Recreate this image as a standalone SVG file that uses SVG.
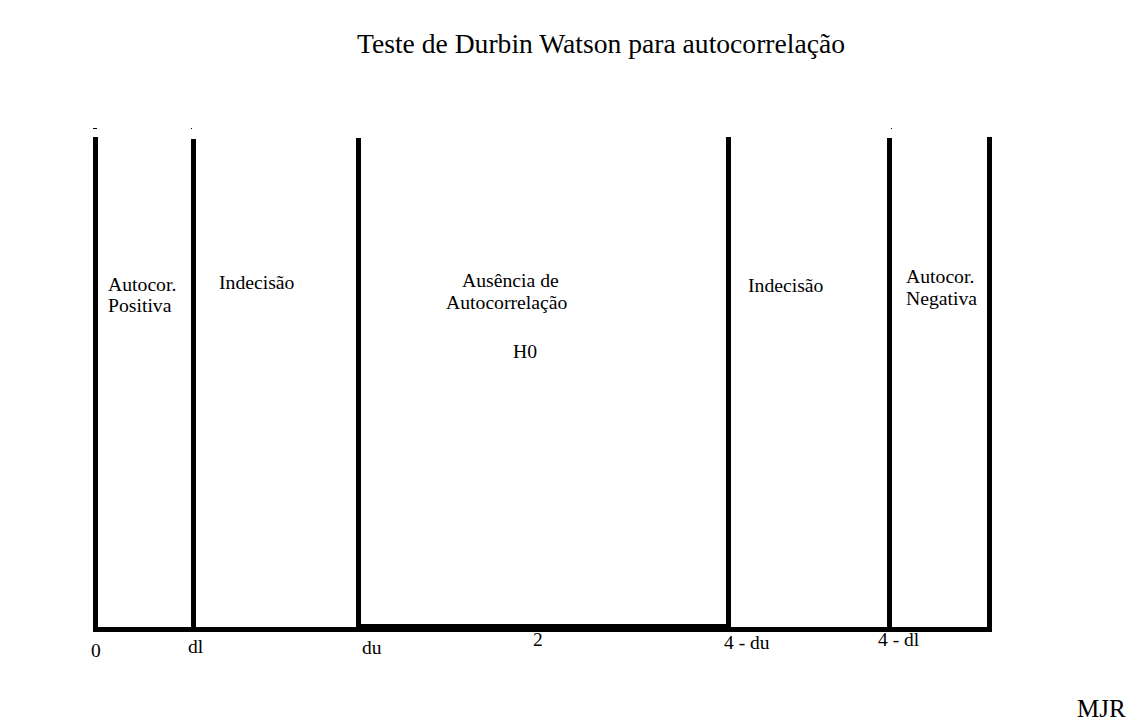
<svg xmlns="http://www.w3.org/2000/svg" width="1139" height="726" viewBox="0 0 1139 726">
<style>
text{font-family:"Liberation Serif","Times New Roman",serif;fill:#000}
.lbl{font-size:19.7px}
.ax{font-size:19.5px}
.bar{fill:#000}
</style>
<rect width="1139" height="726" fill="#fff"/>
<text id="title" x="357" y="53" style="font-size:27.6px">Teste de Durbin Watson para autocorrelação</text>
<g id="frame">
<rect class="bar" x="93" y="128" width="4" height="1"/>
<rect class="bar" x="191" y="128" width="1" height="1"/>
<rect class="bar" x="891" y="128" width="1" height="1"/>
<rect class="bar" x="93" y="137" width="5" height="495"/>
<rect class="bar" x="191" y="139" width="5" height="493"/>
<rect class="bar" x="356" y="138" width="5" height="494"/>
<rect class="bar" x="726" y="137" width="5" height="495"/>
<rect class="bar" x="887" y="138" width="5" height="494"/>
<rect class="bar" x="987" y="137" width="5" height="495"/>
<rect class="bar" x="93" y="627" width="899" height="5"/>
<rect class="bar" x="361" y="624" width="366" height="8"/>
</g>
<g id="region-pos">
<text class="lbl" x="108" y="291">Autocor.</text>
<text class="lbl" x="108" y="312">Positiva</text>
</g>
<g id="region-ind1"><text class="lbl" x="219" y="289">Indecisão</text></g>
<g id="region-h0">
<text class="lbl" x="462" y="287">Ausência de</text>
<text class="lbl" x="446" y="309">Autocorrelação</text>
<text class="lbl" x="513" y="358">H0</text>
</g>
<g id="region-ind2"><text class="lbl" x="748" y="292">Indecisão</text></g>
<g id="region-neg">
<text class="lbl" x="906" y="283">Autocor.</text>
<text class="lbl" x="906" y="305">Negativa</text>
</g>
<g id="axis-labels">
<text class="ax" x="91" y="657">0</text>
<text class="ax" x="188" y="653">dl</text>
<text class="ax" x="362" y="654">du</text>
<text class="ax" x="533" y="646">2</text>
<text class="ax" x="724" y="649">4 - du</text>
<text class="ax" x="878" y="646">4 - dl</text>
</g>
<text id="mjr" x="1077" y="717" style="font-size:25px">MJR</text>
</svg>
